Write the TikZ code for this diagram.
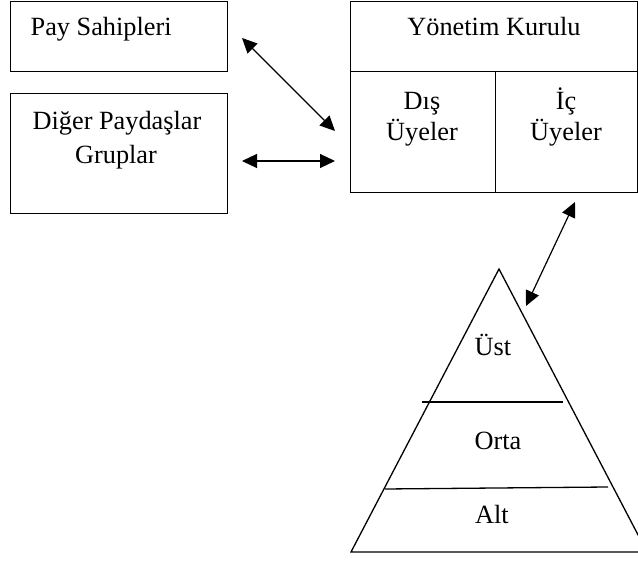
\documentclass[tikz,border=0pt]{standalone}
\usepackage{fontspec}
\setmainfont{Liberation Serif}
\usetikzlibrary{arrows.meta}
\begin{document}
\begin{tikzpicture}[x=1pt,y=-1pt,
  line width=1.3pt,
  box/.style={draw, rectangle, inner sep=0pt, anchor=north west},
  lbl/.style={inner sep=0pt, anchor=base, font=\fontsize{26.3}{31}\selectfont},
  link/.style={{Triangle[length=15pt,width=14pt]}-{Triangle[length=15pt,width=14pt]}, line width=1.2pt}]
\useasboundingbox (0,0) rectangle (638,561);

% stakeholder boxes
\node[box, minimum width=217pt, minimum height=70pt] (pay) at (10,1) {};
\node[box, minimum width=217pt, minimum height=120pt] (diger) at (10,93) {};
\node[lbl, anchor=base west] (paytxt) at (30,36) {Pay Sahipleri};
\node[lbl] (digertxt) at (117,130) {Diğer Paydaşlar};
\node[lbl] (gruptxt) at (116,164) {Gruplar};

% board of directors
\node[box, minimum width=287pt, minimum height=70pt] (yk) at (350,1) {};
\node[box, minimum width=145pt, minimum height=121pt] (dis) at (350,71) {};
\node[box, minimum width=142pt, minimum height=121pt] (ic) at (495,71) {};
\node[lbl] (yktxt) at (494,36) {Yönetim Kurulu};
\node[lbl] (distxt) at (422,110) {Dış};
\node[lbl] (disuye) at (422,141) {Üyeler};
\node[lbl] (ictxt) at (566,110) {İç};
\node[lbl] (icuye) at (566,141) {Üyeler};

% management pyramid
\coordinate (apex) at (499,269);
\coordinate (bl) at (351,552);
\coordinate (br) at (647,552);
\draw (apex) -- (bl) -- (br) -- cycle;
\coordinate (d1l) at (422,402);
\coordinate (d1r) at (563,402);
\coordinate (d2l) at (385,489);
\coordinate (d2r) at (608,487);
\draw (d1l) -- (d1r);
\draw (d2l) -- (d2r);
\node[lbl] (ust) at (493,356) {Üst};
\node[lbl] (orta) at (498,450) {Orta};
\node[lbl] (alt) at (492,523) {Alt};

% two-way links
\coordinate (p1) at (242,38);
\coordinate (p2) at (335,131);
\coordinate (q1) at (242,161);
\coordinate (q2) at (335,161);
\coordinate (r1) at (575,202);
\coordinate (r2) at (526,306);
\draw[link] (p1) -- (p2);
\draw[link] (q1) -- (q2);
\draw[link] (r1) -- (r2);
\end{tikzpicture}
\end{document}
